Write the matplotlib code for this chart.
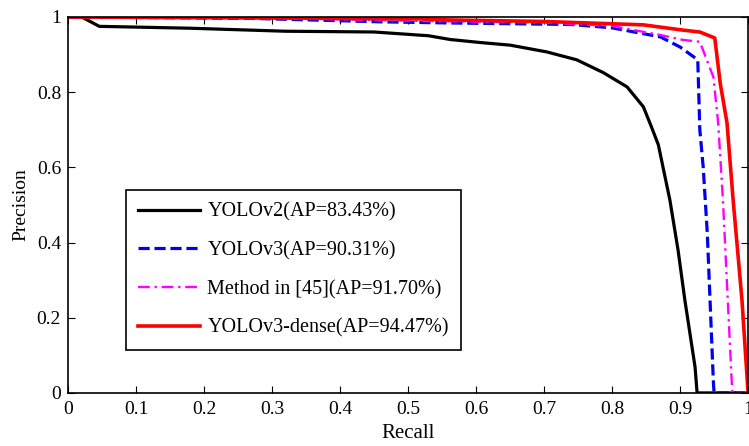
import matplotlib
matplotlib.use("Agg")
import matplotlib.pyplot as plt

# precision-recall curves
yolov2_recall = [0, 0.02, 0.046, 0.18, 0.32, 0.45, 0.53, 0.562, 0.606, 0.65, 0.704,
                 0.748, 0.787, 0.822, 0.846, 0.858, 0.868, 0.885, 0.897, 0.907,
                 0.922, 0.925, 1.0]
yolov2_prec = [1, 1, 0.975, 0.97, 0.962, 0.96, 0.95, 0.94, 0.932, 0.925, 0.907,
               0.886, 0.852, 0.814, 0.761, 0.707, 0.66, 0.513, 0.38, 0.247,
               0.069, 0, 0]

yolov3_recall = [0, 0.274, 0.46, 0.562, 0.74, 0.80, 0.871, 0.90, 0.926, 0.929,
                 0.934, 0.94, 0.949, 0.95, 1.0]
yolov3_prec = [1, 0.996, 0.987, 0.984, 0.98, 0.971, 0.947, 0.92, 0.886, 0.70,
               0.60, 0.425, 0.027, 0, 0]

method45_recall = [0, 0.3, 0.5, 0.7, 0.80, 0.871, 0.904, 0.929, 0.949, 0.956,
                   0.963, 0.976, 0.977, 1.0]
method45_prec = [1, 0.997, 0.99, 0.985, 0.976, 0.952, 0.939, 0.934, 0.84, 0.718,
                 0.513, 0.027, 0, 0]

dense_recall = [0, 0.52, 0.562, 0.7, 0.846, 0.904, 0.929, 0.951, 0.959, 0.969,
                0.978, 0.991, 1.0]
dense_prec = [1, 0.995, 0.992, 0.988, 0.979, 0.965, 0.96, 0.944, 0.824, 0.718,
              0.513, 0.247, 0.0]

labels = ['YOLOv2(AP=83.43%)', 'YOLOv3(AP=90.31%)',
          'Method in [45](AP=91.70%)', 'YOLOv3-dense(AP=94.47%)']
x_ticks = [0, 0.1, 0.2, 0.3, 0.4, 0.5, 0.6, 0.7, 0.8, 0.9, 1]
x_tick_labels = ['0', '0.1', '0.2', '0.3', '0.4', '0.5', '0.6', '0.7', '0.8', '0.9', '1']
y_ticks = [0, 0.2, 0.4, 0.6, 0.8, 1]
y_tick_labels = ['0', '0.2', '0.4', '0.6', '0.8', '1']

plt.rcParams['font.family'] = ['Liberation Serif', 'DejaVu Serif']
plt.rcParams['font.size'] = 14

fig = plt.figure(figsize=(7.49, 4.46), dpi=100)
ax = fig.add_axes([0.0908, 0.119, 0.908, 0.843])

ax.plot(yolov2_recall, yolov2_prec, '-', color='black', linewidth=2.3, label=labels[0])
ax.plot(yolov3_recall, yolov3_prec, '--', color='#0000ee', linewidth=2.3,
        dashes=(3.5, 1.5), label=labels[1])
ax.plot(method45_recall, method45_prec, '-.', color='#ff00ff', linewidth=1.7,
        dashes=(5, 2, 1, 2), label=labels[2])
ax.plot(dense_recall, dense_prec, '-', color='#ff0000', linewidth=2.6, label=labels[3])

ax.set_xlim(0, 1)
ax.set_ylim(0, 1)
ax.set_xticks(x_ticks)
ax.set_xticklabels(x_tick_labels)
ax.set_yticks(y_ticks)
ax.set_yticklabels(y_tick_labels)
ax.tick_params(axis='x', direction='in', length=5, top=True, labelsize=14, pad=6)
ax.tick_params(axis='y', direction='in', length=5, right=True, labelsize=14, pad=5)
for s in ax.spines.values():
    s.set_linewidth(1.2)

ax.set_xlabel('Recall', fontsize=15, labelpad=4)
ax.set_ylabel('Precision', fontsize=14, labelpad=5)

leg = ax.legend(loc='lower left', bbox_to_anchor=(0.085, 0.114), borderaxespad=0,
                fontsize=14.5, handlelength=3.1, labelspacing=0.97, fancybox=False,
                framealpha=1, edgecolor='black', borderpad=0.6, handletextpad=0.35)
leg.get_frame().set_linewidth(1.2)

fig.savefig('out.png', dpi=100)
